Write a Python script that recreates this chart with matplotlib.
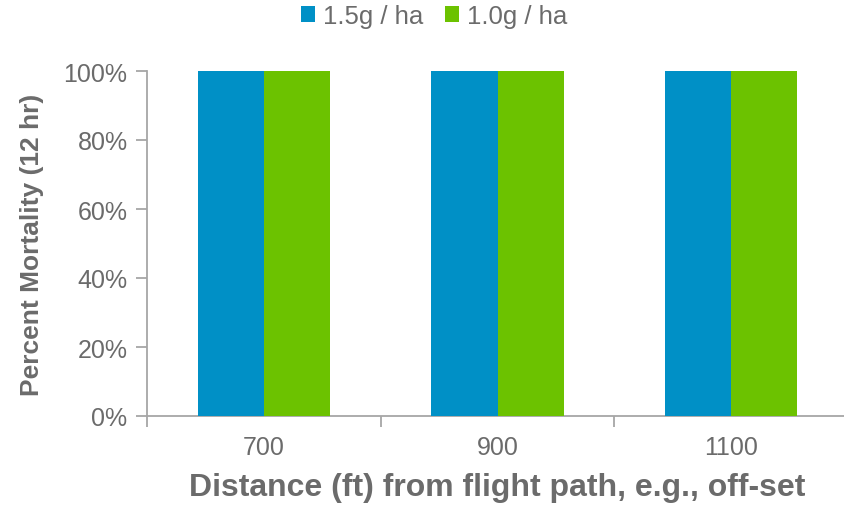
import matplotlib
matplotlib.use("Agg")
import matplotlib.pyplot as plt
import numpy as np
from matplotlib.ticker import FixedLocator, PercentFormatter

categories = ["700", "900", "1100"]
series_names = ["1.5g / ha", "1.0g / ha"]
s15 = [100, 100, 100]
s10 = [100, 100, 100]
colors = ["#0090C6", "#6CC200"]

plt.rcParams['font.family'] = ['Liberation Sans', 'DejaVu Sans']
gray = "#6b6b6b"
axc = "#a6a6a6"

fig = plt.figure(figsize=(8.44, 5.06), dpi=100)
ax = fig.add_axes([147/844, 1-417/506, (848-147)/844, (417-72)/506])

x = np.arange(len(categories))
w = 0.283
ax.bar(x - w/2, s15, width=w, color=colors[0], label=series_names[0], zorder=3)
ax.bar(x + w/2, s10, width=w, color=colors[1], label=series_names[1], zorder=3)

ax.set_xlim(-0.5, len(categories) - 0.5)
ax.set_ylim(0, 100)
ax.set_yticks(np.arange(0, 101, 20))
ax.yaxis.set_major_formatter(PercentFormatter(decimals=0))
ax.set_xticks(x)
ax.set_xticklabels(categories)
ax.xaxis.set_minor_locator(FixedLocator(np.arange(-0.5, len(categories), 1.0)))
ax.tick_params(axis='x', which='major', length=0, pad=14, labelsize=18, labelcolor=gray)
ax.tick_params(axis='x', which='minor', length=8, width=1.3, color=axc, direction='out')
ax.tick_params(axis='y', length=8, width=1.3, color=axc, labelsize=18, labelcolor=gray, pad=6)

for s in ['top', 'right']:
    ax.spines[s].set_visible(False)
for s in ['left', 'bottom']:
    ax.spines[s].set_color(axc)
    ax.spines[s].set_linewidth(1.3)

ax.set_ylabel("Percent Mortality (12 hr)", fontsize=19, fontweight='bold', color=gray, labelpad=14)
ax.set_xlabel("Distance (ft) from flight path, e.g., off-set", fontsize=23, fontweight='bold', color=gray, labelpad=9)

leg = fig.legend(loc='upper center', bbox_to_anchor=(434/844, 1.0), ncol=2, frameon=False,
                 fontsize=18.5, handlelength=0.55, handleheight=0.55, handletextpad=0.3,
                 columnspacing=0.85, borderaxespad=0.0, borderpad=0.2)
for t in leg.get_texts():
    t.set_color(gray)

fig.savefig("out.png", dpi=100)
